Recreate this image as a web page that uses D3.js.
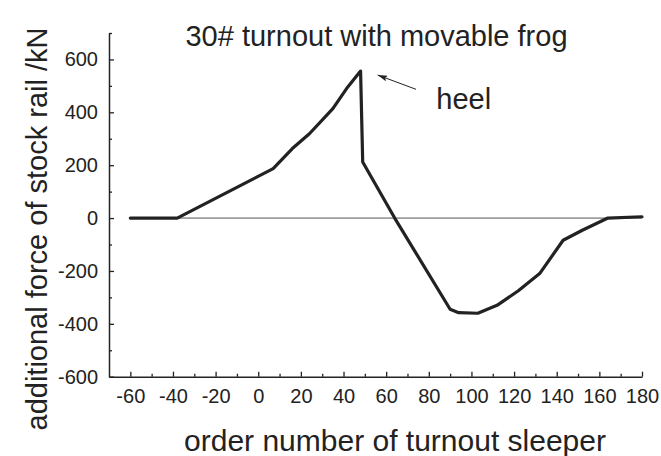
<!DOCTYPE html>
<html>
<head>
<meta charset="utf-8">
<script src="https://cdn.jsdelivr.net/npm/d3@7"></script>
<style>
  html, body { margin: 0; padding: 0; background: #fff; }
  svg { display: block; }
  text { font-family: "Liberation Sans", Arial, sans-serif; fill: #222; }
</style>
</head>
<body>
<svg id="chart" width="661" height="456"></svg>
<script>
// ---- data ----
const sleeper = [-60, -45, -38, 7, 16, 24, 35, 42, 48, 49, 64, 90, 94, 103, 112, 122, 132, 143, 152, 164, 180];
const force   = [0, 0, 0, 187, 263, 319, 414, 496, 556, 212, 0, -345, -358, -360, -330, -275, -210, -84, -46, 0, 5];

const xMajorTicks = [-60, -40, -20, 0, 20, 40, 60, 80, 100, 120, 140, 160, 180];
const xMinorTicks = [-50, -30, -10, 10, 30, 50, 70, 90, 110, 130, 150, 170];
const yMajorTicks = [-600, -400, -200, 0, 200, 400, 600];
const yMinorTicks = [-500, -300, -100, 100, 300, 500, 700];

const titleText = "30# turnout with movable frog";
const xLabelText = "order number of turnout sleeper";
const yLabelText = "additional force of stock rail /kN";
const noteText = "heel";
// annotation arrow (data coordinates): tail -> tip, pointing at the heel peak
const arrowTail = [74, 487];
const arrowTip = [56, 541];
const notePos = [83.5, 414];

// ---- layout ----
const svg = d3.select("#chart");
const x = d3.scaleLinear().domain([-70, 180]).range([109, 642]);
const y = d3.scaleLinear().domain([-600, 700]).range([376.7, 33]);

const ink = "#222";
const fmt = d => String(d);

// zero reference line
svg.append("line")
  .attr("x1", x(-60)).attr("x2", x(180))
  .attr("y1", y(0)).attr("y2", y(0))
  .attr("stroke", "#555").attr("stroke-width", 1);

// x axis
const gx = svg.append("g").attr("transform", `translate(0,${y(-600)})`);
gx.call(d3.axisBottom(x).tickValues(xMajorTicks).tickSizeInner(-5).tickSizeOuter(0).tickPadding(12).tickFormat(fmt));
const gxm = svg.append("g").attr("transform", `translate(0,${y(-600)})`);
gxm.call(d3.axisBottom(x).tickValues(xMinorTicks).tickSizeInner(-3).tickSizeOuter(0).tickFormat(""));
gxm.select(".domain").remove();

// y axis
const gy = svg.append("g").attr("transform", `translate(${x(-70)},0)`);
gy.call(d3.axisLeft(y).tickValues(yMajorTicks).tickSizeInner(-5).tickSizeOuter(0).tickPadding(11).tickFormat(fmt));
const gym = svg.append("g").attr("transform", `translate(${x(-70)},0)`);
gym.call(d3.axisLeft(y).tickValues(yMinorTicks).tickSizeInner(-3).tickSizeOuter(0).tickFormat(""));
gym.select(".domain").remove();

svg.selectAll(".domain").attr("stroke", ink).attr("stroke-width", 1.5);
svg.selectAll(".tick line").attr("stroke", ink).attr("stroke-width", 1.3);
svg.selectAll(".tick text")
  .attr("font-family", "'Liberation Sans', Arial, sans-serif")
  .attr("font-size", 20).attr("fill", ink);

// data line
const pts = sleeper.map((s, i) => [s, force[i]]);
svg.append("path")
  .datum(pts)
  .attr("fill", "none")
  .attr("stroke", ink)
  .attr("stroke-width", 3.2)
  .attr("stroke-linejoin", "round")
  .attr("stroke-linecap", "round")
  .attr("d", d3.line().x(d => x(d[0])).y(d => y(d[1])));

// title
svg.append("text")
  .attr("x", 376.5).attr("y", 46)
  .attr("text-anchor", "middle")
  .attr("font-size", 29)
  .text(titleText);

// x label
svg.append("text")
  .attr("x", 395).attr("y", 451)
  .attr("text-anchor", "middle")
  .attr("font-size", 30)
  .text(xLabelText);

// y label
svg.append("text")
  .attr("transform", "translate(47,229) rotate(-90)")
  .attr("text-anchor", "middle")
  .attr("font-size", 29)
  .text(yLabelText);

// heel annotation
svg.append("defs").append("marker")
  .attr("id", "ah")
  .attr("viewBox", "0 0 10 6")
  .attr("refX", 10).attr("refY", 3)
  .attr("markerWidth", 10).attr("markerHeight", 6)
  .attr("markerUnits", "userSpaceOnUse")
  .attr("orient", "auto")
  .append("path").attr("d", "M0,0 L10,3 L0,6 L2,3 Z").attr("fill", ink);

svg.append("line")
  .attr("x1", x(arrowTail[0])).attr("y1", y(arrowTail[1]))
  .attr("x2", x(arrowTip[0])).attr("y2", y(arrowTip[1]))
  .attr("stroke", ink).attr("stroke-width", 1)
  .attr("marker-end", "url(#ah)");

svg.append("text")
  .attr("x", x(notePos[0])).attr("y", y(notePos[1]))
  .attr("font-size", 29)
  .text(noteText);
</script>
</body>
</html>
